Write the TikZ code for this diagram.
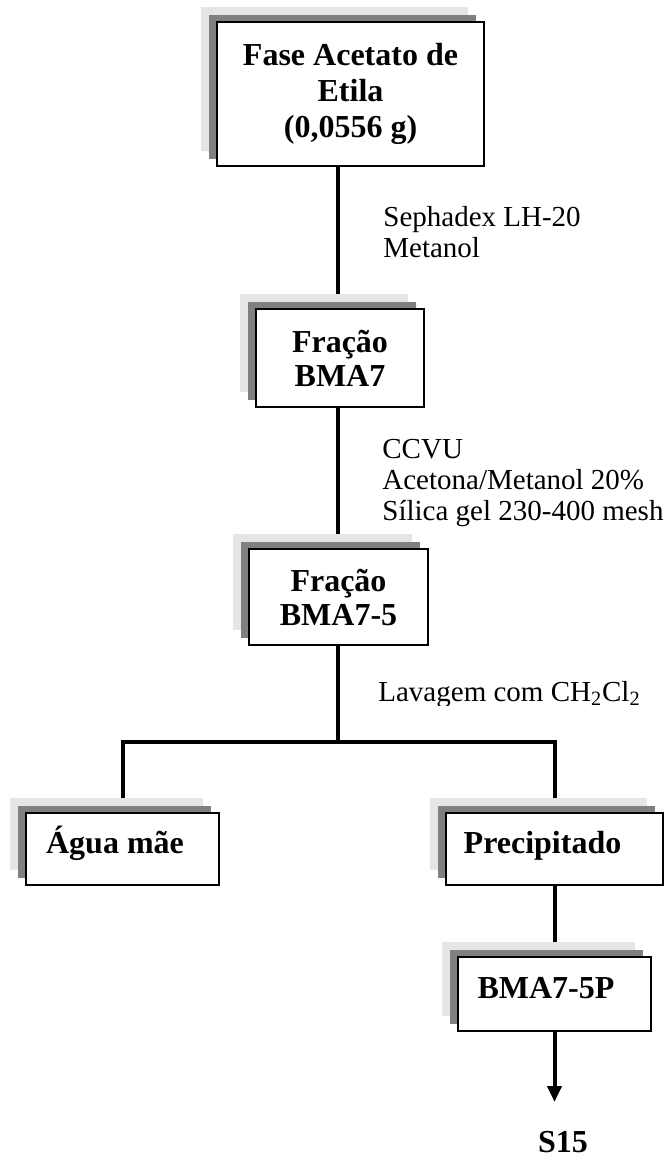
\documentclass[tikz,border=0pt]{standalone}
\usepackage{fontspec}
\setmainfont{Liberation Serif}
\usetikzlibrary{arrows.meta,backgrounds}
\definecolor{shlight}{HTML}{E5E5E5}
\definecolor{shdark}{HTML}{808080}
\begin{document}
\begin{tikzpicture}[x=0.5pt,y=-0.5pt,
 box/.style={draw=black, line width=1.1pt, fill=white, inner sep=0pt, align=center,
   font=\fontsize{16}{17}\selectfont\bfseries,
   preaction={fill=shlight, draw=none, transform canvas={xshift=-8pt,yshift=7.5pt}},
   preaction={fill=shdark, draw=none, transform canvas={xshift=-4pt,yshift=3.5pt}}},
 onebox/.style={box, text height=10.5pt, text depth=6.5pt},
 conn/.style={line width=2pt},
 lbl/.style={anchor=base west, align=left, inner sep=0pt, font=\fontsize{14.5}{15.5}\selectfont},
 endlbl/.style={anchor=base, inner sep=0pt, font=\fontsize{16}{17}\selectfont\bfseries}
]
\useasboundingbox (0,0) rectangle (666,1157);

\node[box, minimum width=133.5pt, minimum height=72pt, font=\fontsize{16}{18}\selectfont\bfseries] (top) at (350.5,94) {Fase Acetato de\\Etila\\(0,0556 g)};
\node[box, minimum width=84pt, minimum height=49pt] (bma7) at (340,358) {Fração\\BMA7};
\node[box, minimum width=89.5pt, minimum height=48pt] (bma75) at (338.5,597) {Fração\\BMA7-5};
\node[onebox, minimum width=96.5pt, minimum height=36pt] (agua) at (122.5,849) {Água mãe\hspace*{7.5pt}};
\node[onebox, minimum width=108.5pt, minimum height=36pt] (prec) at (554.5,849) {Precipitado\hspace*{12pt}};
\node[onebox, minimum width=96.5pt, minimum height=37pt] (p5) at (554.5,994) {BMA7-5P\hspace*{8.5pt}};
\node[endlbl] (s15) at (563,1152) {S15};

\node[lbl] (l1) at (383,257) {Sephadex LH-20\\Metanol};
\node[lbl] (l2) at (382,520) {CCVU\\Acetona/Metanol 20\%\\Sílica gel 230-400 mesh};
\begin{scope}
  \clip (370,660) rectangle (666,705);
  \node[lbl] (l3) at (378,701) {Lavagem com CH\textsubscript{2}Cl\textsubscript{2}};
\end{scope}

\coordinate (split) at (338,742);
\coordinate (tip) at (554.5,1102);

\begin{pgfonlayer}{background}
  \draw[conn] (top.south -| 338,0) -- (bma7.north -| 338,0);
  \draw[conn] (bma7.south -| 338,0) -- (bma75.north -| 338,0);
  \draw[conn] (bma75.south -| split) -- (split);
  \draw[conn] (agua.north) |- (split) -| (prec.north);
  \draw[conn] (prec.south) -- (p5.north);
  \draw[conn, -{Triangle[width=7pt,length=8pt]}] (p5.south) -- (tip);
\end{pgfonlayer}
\end{tikzpicture}
\end{document}
